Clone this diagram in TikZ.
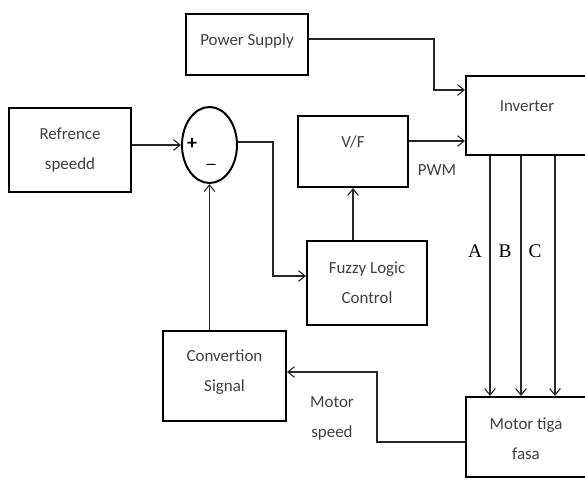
\documentclass[tikz,border=0pt]{standalone}
\usepackage{fontspec}
\setmainfont{Carlito}
\newfontfamily\abcfont{Liberation Serif}
\usetikzlibrary{shapes.geometric,arrows.meta,calc}
\definecolor{txt}{gray}{0.25}
\tikzset{
  blk/.style={draw=black, line width=1.5pt, rectangle, inner sep=0pt},
  lbl/.style={text=txt, font=\fontsize{12.7}{22.5}\selectfont, align=center, inner sep=0pt},
  abc/.style={text=black, font=\abcfont\fontsize{14.5}{16}\selectfont, inner sep=0pt},
  sgn/.style={text=black, font=\bfseries\fontsize{15}{15}\selectfont, inner sep=0pt},
  conn/.style={draw=black!85, line width=0.8pt, -{Straight Barb[length=5pt,width=8pt,line width=0.8pt]}},
  wire/.style={draw=black!85, line width=0.8pt}
}
\begin{document}
\begin{tikzpicture}[x=0.75pt,y=-0.75pt]
\useasboundingbox (0,0) rectangle (585,482);
% boxes
\node[blk, minimum width=91.5pt, minimum height=45.75pt] (ps) at (247,44.5) {};
\node[lbl] (pst) at (247,41) {Power Supply};
\node[blk, minimum width=91.5pt, minimum height=63pt] (ref) at (70,150) {};
\node[lbl] (reft) at (70,150) {Refrence\\speedd};
\node[draw=black, line width=1.5pt, ellipse, minimum width=41.25pt, minimum height=57pt, inner sep=0pt] (circ) at (209.5,145) {};
\node[sgn] (plus) at (192,144) {+};
\node[sgn, font=\bfseries\fontsize{9.5}{10}\selectfont] (minus) at (211,166) {\textemdash};
\node[blk, minimum width=82.5pt, minimum height=53.25pt] (vf) at (353,151.5) {};
\node[lbl] (vft) at (353,142) {V/F};
\node[blk, minimum width=96.75pt, minimum height=59.25pt] (inv) at (530.5,115.5) {};
\node[lbl] (invt) at (527,106) {Inverter};
\node[blk, minimum width=90pt, minimum height=63pt] (fz) at (367,283) {};
\node[lbl] (fzt) at (367,282.5) {Fuzzy Logic\\Control};
\node[blk, minimum width=92.25pt, minimum height=67.5pt] (cv) at (224.5,376) {};
\node[lbl] (cvt) at (224.5,372) {Convertion\\Signal};
\node[blk, minimum width=96.75pt, minimum height=60pt] (mt) at (530.5,437) {};
\node[lbl] (mtt) at (526,439) {Motor tiga\\fasa};
% labels
\node[lbl] (pwm) at (437,170) {PWM};
\node[lbl] (msp) at (332,418) {Motor\\speed};
\node[abc] (la) at (475,251) {A};
\node[abc] (lb) at (505,251) {B};
\node[abc] (lc) at (535,251) {C};
% connectors
\draw[conn] (ref.east |- circ.west) -- (circ.west);
\draw[conn] ($(circ.east)+(0,-3)$) -| (273,276) -- (fz.west |- 0,276);
\draw[conn] (vf.south |- fz.north) -- (vf.south);
\draw[conn] ($(vf.east)+(0,-10.5)$) -- (inv.west |- 0,141);
\draw[conn] (ps.east |- 0,39) -| (434,90) -- (inv.west |- 0,90);
\draw[conn] (inv.south -| 490,0) -- (mt.north -| 490,0);
\draw[conn] (inv.south -| 521,0) -- (mt.north -| 521,0);
\draw[conn] (inv.south -| 555,0) -- (mt.north -| 555,0);
\draw[conn] (mt.west |- 0,442) -| (377,372) -- (cv.east |- 0,372);
\draw[conn] (circ.south |- cv.north) -- (circ.south);
\end{tikzpicture}
\end{document}
